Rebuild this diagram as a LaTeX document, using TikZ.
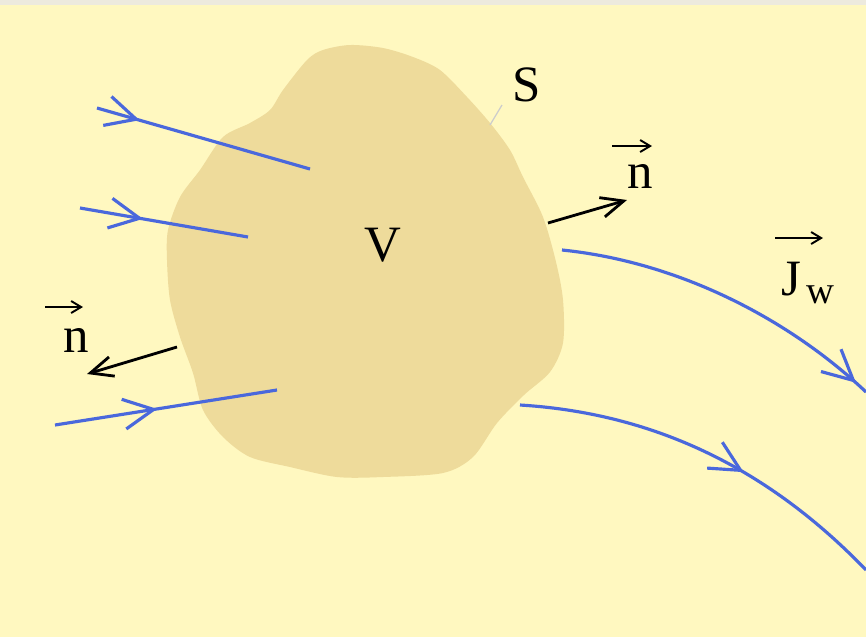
\documentclass[tikz,border=0pt]{standalone}
\usepackage{fontspec}
\setmainfont{Liberation Serif}
\usetikzlibrary{arrows.meta,decorations.markings}
\definecolor{paper}{HTML}{FFF8C0}
\definecolor{strip}{HTML}{EDEADE}
\definecolor{blob}{HTML}{EEDB9B}
\definecolor{flowblue}{HTML}{4A68DC}
\begin{document}
\begin{tikzpicture}[x=0.02cm,y=-0.02cm,
    flow/.style={draw=flowblue, line width=1.8pt, postaction={decorate},
      decoration={markings, mark=at position #1 with {\arrow{Straight Barb[length=6mm,width=6mm,line width=1.8pt]}}}},
    normal/.style={draw=black, line width=1.6pt, -{Straight Barb[length=4.5mm,width=4mm]}},
    vecarrow/.style={draw=black, line width=1.1pt, -{Straight Barb[length=2mm,width=2.4mm]}},
    lbl/.style={inner sep=0pt, font=\fontsize{29}{34}\selectfont}]
  % background and top strip
  \fill[paper] (0,0) rectangle (866,637);
  \fill[strip] (0,0) rectangle (866,5);
  \useasboundingbox (0,0) rectangle (866,637);
  % the volume V
  \fill[blob] plot[smooth cycle, tension=0.5] coordinates {
    (307,60) (323,50) (350,45) (383,48) (413,57) (440,70) (467,97)
    (490,123) (510,150) (523,177) (543,217) (556,262) (563,300)
    (563,343) (550,372) (524,395) (497,423) (473,457) (443,473)
    (383,477) (337,477) (290,467) (250,457) (223,437) (203,410)
    (193,373) (180,337) (170,300) (167,260) (168,230) (180,197)
    (200,170) (223,137) (250,123) (270,110) (283,90)};
  \node[lbl] (vol) at (383,245) {V};
  \node[lbl] (surf) at (527,85) {S};
  \coordinate (surfpt) at (490,125);
  \draw[black!20, line width=0.7pt] (502,105) -- (surfpt);
  % flow lines
  \coordinate (a1) at (97,108);  \coordinate (a2) at (310,169);
  \coordinate (b1) at (80,208);  \coordinate (b2) at (248,237);
  \coordinate (c1) at (55,425);  \coordinate (c2) at (277,390);
  \coordinate (d1) at (562,250); \coordinate (d2) at (866,392);
  \coordinate (e1) at (520,405); \coordinate (e2) at (866,570);
  \draw[flow=0.2] (a1) -- (a2);
  \draw[flow=0.375] (b1) -- (b2);
  \draw[flow=0.46] (c1) -- (c2);
  \draw[flow=0.96] (d1) .. controls (680,262) and (790,320) .. (d2);
  \draw[flow=0.6] (e1) .. controls (650,413) and (765,465) .. (e2);
  % normals
  \coordinate (nr0) at (548,223); \coordinate (nr1) at (627,200);
  \coordinate (nl0) at (177,347); \coordinate (nl1) at (87,374);
  \draw[normal] (nr0) -- (nr1);
  \draw[normal] (nl0) -- (nl1);
  % labels with vector arrows
  \node[lbl, anchor=base west] (nright) at (627,188) {n};
  \node[lbl, anchor=base west] (nleft) at (63,352) {n};
  \node[lbl, anchor=base west] (flux) at (781,295)
    {J\hspace{3pt}\raisebox{-5pt}{\fontsize{22}{24}\selectfont w}};
  \draw[vecarrow] ([shift={(-15,-42)}]nright.base west) -- ++(40,0);
  \draw[vecarrow] ([shift={(-18,-45)}]nleft.base west) -- ++(38,0);
  \draw[vecarrow] ([shift={(-6,-57)}]flux.base west) -- ++(48,0);
\end{tikzpicture}
\end{document}
